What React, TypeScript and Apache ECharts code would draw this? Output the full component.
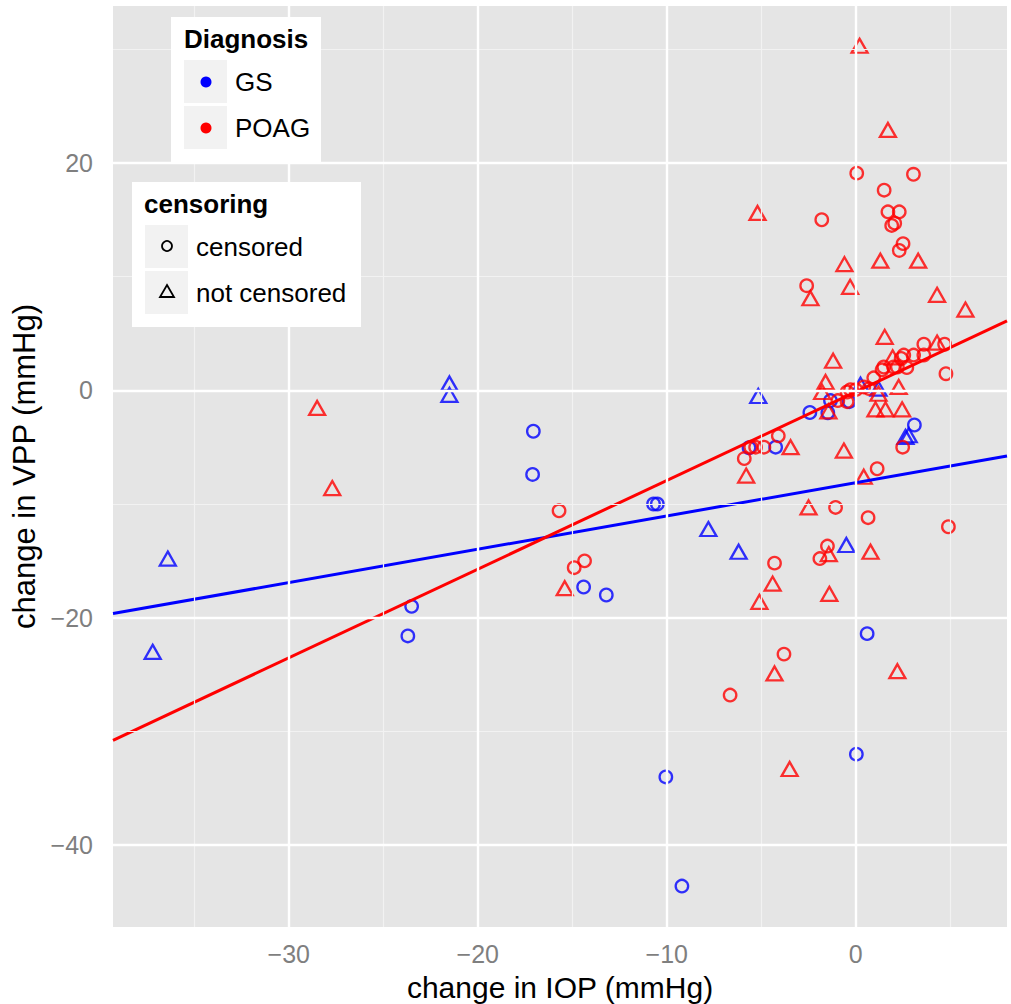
import React, { useEffect, useRef } from "react";
import * as echarts from "echarts";

// ---- data (change in IOP, change in VPP) ----
const gsCensored: number[][] = [
  [-17.06, -3.6], [-17.1, -7.4], [-10.7, -10.0], [-10.5, -10.0], [-14.4, -17.3],
  [-13.2, -18.0], [-23.5, -19.0], [-23.7, -21.6], [-5.65, -5.05], [-4.24, -5.0],
  [-2.43, -1.95], [-1.48, -1.97], [-1.34, -0.9], [-0.35, -1.0], [3.1, -3.05],
  [0.6, -21.4], [0.03, -32.0], [-10.05, -34.0], [-9.2, -43.6],
];
const gsNotCensored: number[][] = [
  [-36.4, -14.8], [-37.2, -23.0], [-21.5, 0.6], [-21.5, -0.4], [-7.8, -12.2],
  [-6.2, -14.2], [-5.16, -0.5], [0.25, 0.5], [1.2, 0.15], [2.63, -4.1],
  [2.8, -3.95], [-0.5, -13.6],
];
const poagCensored: number[][] = [
  [0.05, 19.1], [3.05, 19.0], [1.5, 17.6], [-1.8, 15.0], [1.7, 15.7], [2.3, 15.7],
  [2.06, 14.7], [1.9, 14.5], [2.5, 12.9], [2.3, 12.3], [-2.6, 9.2], [3.6, 4.05],
  [4.7, 4.05], [2.54, 3.1], [3.06, 3.1], [3.6, 3.1], [2.4, 2.8], [1.48, 2.05],
  [1.39, 1.8], [2.0, 2.05], [2.2, 2.05], [2.7, 2.0], [4.77, 1.46], [0.95, 1.1],
  [0.42, 0.3], [0.7, 0.15], [-0.28, 0.06], [0.0, 0.06], [-0.46, -0.15],
  [-0.95, -0.9], [-0.46, -1.0], [-4.1, -4.0], [-5.56, -5.0], [-5.3, -5.0],
  [-4.86, -5.0], [-5.9, -6.0], [2.48, -5.0], [1.13, -6.9], [-1.07, -10.3],
  [0.65, -11.2], [4.9, -12.0], [-1.5, -13.7], [-1.9, -14.8], [-4.3, -15.2],
  [-3.8, -23.2], [-6.65, -26.8], [-15.7, -10.6], [-14.35, -15.0], [-14.9, -15.6],
];
const poagNotCensored: number[][] = [
  [0.2, 30.3], [1.7, 22.9], [-5.2, 15.6], [-0.6, 11.1], [1.3, 11.4], [3.3, 11.4],
  [-0.3, 9.1], [-2.4, 8.1], [4.3, 8.4], [5.8, 7.1], [1.53, 4.7], [4.3, 4.2],
  [-1.2, 2.6], [1.95, 2.9], [-1.6, 0.73], [-1.78, -0.15], [2.27, 0.3], [1.2, -0.3],
  [1.04, -1.67], [1.57, -1.67], [2.45, -1.67], [-1.45, -1.85], [-3.45, -5.0],
  [-0.63, -5.3], [-5.8, -7.5], [0.42, -7.6], [-2.5, -10.3], [-1.43, -14.4],
  [0.78, -14.2], [-4.4, -17.0], [-1.4, -17.9], [-5.1, -18.6], [-4.3, -24.9],
  [2.2, -24.7], [-3.5, -33.3], [-28.5, -1.55], [-27.7, -8.6], [-15.4, -17.4],
];

// regression fits: [intercept, slope]
const gsFit = [-8.12, 0.293];
const poagFit = [-0.13, 0.78];

// axes
const xRange = [-39.3, 8.0];
const yRange = [-47.2, 33.8];
const xTicks = [-30, -20, -10, 0];
const xMinor = [-35, -25, -15, -5, 5];
const yTicks = [-40, -20, 0, 20];
const yMinor = [-30, -10, 10, 30];

const diagnosisNames = ["GS", "POAG"];
const censoringNames = ["censored", "not censored"];

const BLUE = "#0000FF";
const RED = "#FF0000";
const FONT = "'Liberation Sans', Arial, Helvetica, sans-serif";

const fmt = (v: number) => (v < 0 ? "\u2212" + Math.abs(v) : String(v));

function fitLine(fit: number[]) {
  return [xRange[0], xRange[1]].map((x) => [x, fit[0] + fit[1] * x]);
}

export default function App() {
  const ref = useRef<HTMLDivElement>(null);

  useEffect(() => {
    document.body.style.margin = "0";
    if (!ref.current) return;
    const chart = echarts.init(ref.current, null, { renderer: "svg" });

    const circleSeries = (name: string, data: number[][], color: string) => ({
      name,
      type: "scatter",
      data,
      symbol: "circle",
      symbolSize: 12.5,
      itemStyle: { color: "rgba(0,0,0,0)", borderColor: color, borderWidth: 2.3 },
      z: 3,
      silent: true,
    });
    const triSeries = (name: string, data: number[][], color: string) => ({
      name,
      type: "scatter",
      data,
      symbol: "triangle",
      symbolSize: [16, 14],
      itemStyle: { color: "rgba(0,0,0,0)", borderColor: color, borderWidth: 2.3 },
      z: 3,
      silent: true,
    });

    const gridLines = {
      type: "line",
      data: [],
      z: 1,
      silent: true,
      markLine: {
        silent: true,
        symbol: ["none", "none"],
        label: { show: false },
        animation: false,
        data: [
          ...xMinor.map((v) => ({ xAxis: v, lineStyle: { color: "#F2F2F2", width: 1.2, type: "solid" } })),
          ...yMinor.map((v) => ({ yAxis: v, lineStyle: { color: "#F2F2F2", width: 1.2, type: "solid" } })),
          ...xTicks.map((v) => ({ xAxis: v, lineStyle: { color: "#FFFFFF", width: 2.4, type: "solid" } })),
          ...yTicks.map((v) => ({ yAxis: v, lineStyle: { color: "#FFFFFF", width: 2.4, type: "solid" } })),
        ],
      },
    };

    const legendText = (x: number, y: number, text: string, bold = false) => ({
      type: "text",
      x,
      y,
      style: {
        text,
        fill: "#000",
        font: `${bold ? "bold " : ""}26px ${FONT}`,
        textVerticalAlign: "middle",
        textAlign: "left",
      },
    });

    const keyBox = (x: number, y: number) => ({
      type: "rect",
      shape: { x, y, width: 43, height: 43 },
      style: { fill: "#F2F2F2" },
    });

    chart.setOption({
      animation: false,
      grid: {
        left: 113,
        right: 4,
        top: 6,
        bottom: 77,
        show: true,
        backgroundColor: "#E5E5E5",
        borderWidth: 0,
        containLabel: false,
        outerBoundsMode: "none",
      },
      xAxis: {
        type: "value",
        min: xRange[0],
        max: xRange[1],
        name: "change in IOP (mmHg)",
        nameLocation: "middle",
        nameGap: 45,
        nameTextStyle: { fontFamily: FONT, fontSize: 30, lineHeight: 30, color: "#000" },
        axisLine: { show: false },
        splitLine: { show: false },
        axisTick: {
          show: true,
          length: 7,
          customValues: xTicks,
          lineStyle: { color: "#7F7F7F", width: 2 },
        },
        axisLabel: {
          customValues: xTicks,
          formatter: fmt,
          fontFamily: FONT,
          fontSize: 25,
          color: "#7F7F7F",
          margin: 14,
        },
      },
      yAxis: {
        type: "value",
        min: yRange[0],
        max: yRange[1],
        name: "change in VPP (mmHg)",
        nameLocation: "middle",
        nameRotate: 90,
        nameGap: 64,
        nameTextStyle: { fontFamily: FONT, fontSize: 31, color: "#000" },
        axisLine: { show: false },
        splitLine: { show: false },
        axisTick: {
          show: true,
          length: 8,
          customValues: yTicks,
          lineStyle: { color: "#7F7F7F", width: 2 },
        },
        axisLabel: {
          customValues: yTicks,
          formatter: fmt,
          fontFamily: FONT,
          fontSize: 25,
          color: "#7F7F7F",
          margin: 20,
        },
      },
      series: [
        gridLines,
        circleSeries("GS censored", gsCensored, BLUE),
        triSeries("GS not censored", gsNotCensored, BLUE),
        circleSeries("POAG censored", poagCensored, RED),
        triSeries("POAG not censored", poagNotCensored, RED),
        {
          name: "GS fit",
          type: "line",
          data: fitLine(gsFit),
          showSymbol: false,
          lineStyle: { color: BLUE, width: 3 },
          z: 4,
          silent: true,
        },
        {
          name: "POAG fit",
          type: "line",
          data: fitLine(poagFit),
          showSymbol: false,
          lineStyle: { color: RED, width: 3 },
          z: 4,
          silent: true,
        },
      ],
      graphic: [
        // Diagnosis legend
        { type: "rect", shape: { x: 171, y: 17, width: 150, height: 145 }, style: { fill: "#FFFFFF" }, z: 10 },
        { ...legendText(184, 39, "Diagnosis", true), z: 11 },
        { ...keyBox(184, 60), z: 11 },
        { ...keyBox(184, 106), z: 11 },
        { type: "circle", shape: { cx: 206, cy: 82, r: 5.5 }, style: { fill: BLUE }, z: 12 },
        { type: "circle", shape: { cx: 206, cy: 128, r: 5.5 }, style: { fill: RED }, z: 12 },
        { ...legendText(235, 82, diagnosisNames[0]), z: 11 },
        { ...legendText(235, 128, diagnosisNames[1]), z: 11 },
        // censoring legend
        { type: "rect", shape: { x: 132, y: 182, width: 229, height: 145 }, style: { fill: "#FFFFFF" }, z: 10 },
        { ...legendText(144, 204, "censoring", true), z: 11 },
        { ...keyBox(145, 225), z: 11 },
        { ...keyBox(145, 271), z: 11 },
        { type: "circle", shape: { cx: 167, cy: 246, r: 5 }, style: { fill: "none", stroke: "#000", lineWidth: 1.8 }, z: 12 },
        {
          type: "polygon",
          shape: { points: [[167, 285], [174, 297], [160, 297]] },
          style: { fill: "none", stroke: "#000", lineWidth: 1.8 },
          z: 12,
        },
        { ...legendText(196, 247, censoringNames[0]), z: 11 },
        { ...legendText(196, 293, censoringNames[1]), z: 11 },
      ],
    });

    return () => chart.dispose();
  }, []);

  return <div ref={ref} style={{ width: 1011, height: 1004 }} />;
}
